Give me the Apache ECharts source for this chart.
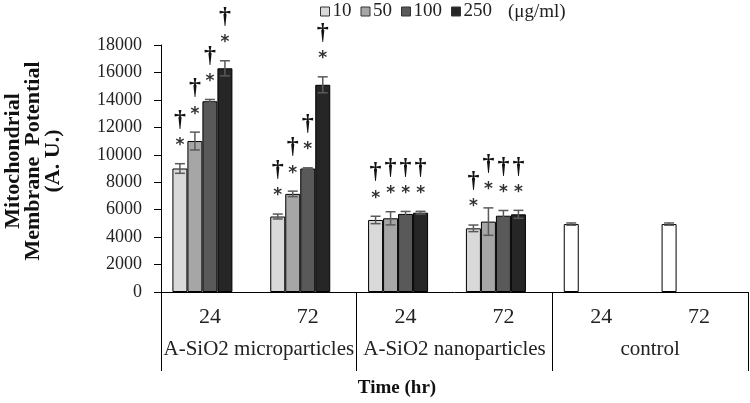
<!DOCTYPE html>
<html>
<head>
<meta charset="utf-8">
<script src="https://cdn.jsdelivr.net/npm/echarts@6/dist/echarts.min.js"></script>
<style>html,body{margin:0;padding:0;background:#fff;}#c{width:750px;height:403px;}</style>
</head>
<body>
<div id="c"></div>
<script>
const timeLabels = ['24', '72', '24', '72', '24', '72'];
const groupLabels = ['A-SiO2 microparticles', 'A-SiO2 nanoparticles', 'control'];
const seriesNames = ['10', '50', '100', '250'];
const yTicks = [0, 2000, 4000, 6000, 8000, 10000, 12000, 14000, 16000, 18000];

const v10 = [9000, 5500, 5250, 4640, 4950, 4950];
const v50 = [11000, 7150, 5370, 5130, null, null];
const v100 = [13900, 9000, 5690, 5560, null, null];
const v250 = [16300, 15100, 5780, 5660, null, null];

const e10 = [350, 180, 270, 240, 80, 80];
const e50 = [650, 200, 480, 1000, null, null];
const e100 = [130, 50, 180, 380, null, null];
const e250 = [550, 580, 100, 290, null, null];

// significance marks (asterisk and dagger shown above the bar)
const sig10 = [1, 1, 1, 1, 0, 0];
const sig50 = [1, 1, 1, 1, 0, 0];
const sig100 = [1, 1, 1, 1, 0, 0];
const sig250 = [1, 1, 1, 1, 0, 0];

const values = [v10, v50, v100, v250];
const errors = [e10, e50, e100, e250];
const sigs = [sig10, sig50, sig100, sig250];
const colors = ['#d9d9d9', '#a6a6a6', '#595959', '#262626'];
const FONT = 'Liberation Serif';
const BAR_W = 15;

const barSeries = values.map((arr, si) => ({
  name: seriesNames[si],
  type: 'bar',
  barWidth: BAR_W,
  barGap: '0%',
  itemStyle: { color: colors[si], borderColor: '#000', borderWidth: 1 },
  data: arr.map((v, i) => {
    if (v == null) return null;
    const isControl = Math.floor(i / 2) === 2;
    return isControl ? { value: v, itemStyle: { color: '#fff' } } : v;
  })
}));
// empty fifth slot (as in the original layout)
barSeries.push({ name: 'pad', type: 'bar', barWidth: BAR_W, barGap: '0%', data: timeLabels.map(() => null) });

const errData = [];
values.forEach((arr, si) => {
  arr.forEach((v, i) => {
    if (v == null) return;
    errData.push([i, si, v, errors[si][i], sigs[si][i]]);
  });
});

const chart = echarts.init(document.getElementById('c'));
chart.setOption({
  animation: false,
  textStyle: { fontFamily: FONT },
  grid: { left: 161, right: 2, top: 45, bottom: 111, containLabel: false },
  legend: {
    data: seriesNames,
    left: 320, top: 2, padding: 0,
    icon: 'rect', itemWidth: 9, itemHeight: 9, itemGap: 9,
    itemStyle: { borderColor: '#333', borderWidth: 1 },
    textStyle: { fontFamily: FONT, fontSize: 19, color: '#222', padding: [0, 0, 0, -2] }
  },
  xAxis: [
    {
      type: 'category', data: timeLabels, position: 'bottom',
      axisLine: { show: true, lineStyle: { color: '#000', width: 1 } },
      axisTick: { show: false },
      axisLabel: { margin: 14, fontFamily: FONT, fontSize: 22, color: '#222', interval: 0 }
    },
    {
      type: 'category', data: groupLabels, position: 'bottom',
      axisLine: { show: false },
      axisTick: { show: true, length: 79, lineStyle: { color: '#000', width: 1 }, interval: 0 },
      axisLabel: { margin: 47, fontFamily: FONT, fontSize: 21, color: '#222', interval: 0 }
    }
  ],
  yAxis: {
    type: 'value', min: 0, max: 18000, interval: 2000,
    axisLine: { show: true, lineStyle: { color: '#000', width: 1 } },
    axisTick: { show: true, length: 7, lineStyle: { color: '#000' } },
    splitLine: { show: false },
    axisLabel: {
      margin: 19, fontFamily: FONT, fontSize: 18, color: '#222',
      formatter: v => (yTicks.indexOf(v) >= 0 ? String(v) : '')
    }
  },
  series: barSeries.concat([{
    type: 'custom',
    clip: false,
    z: 5,
    data: errData,
    renderItem: function (params, api) {
      const cat = api.value(0), si = api.value(1), v = api.value(2), e = api.value(3), sig = api.value(4);
      const base = api.coord([cat, v]);
      const x = base[0] + (si - 2) * BAR_W;
      const yTop = api.coord([cat, v + e])[1];
      const yBot = api.coord([cat, v - e])[1];
      const st = { stroke: '#5a5a5a', lineWidth: 1.5 };
      const children = [
        { type: 'line', shape: { x1: x, y1: yTop, x2: x, y2: yBot }, style: st },
        { type: 'line', shape: { x1: x - 5, y1: yTop, x2: x + 5, y2: yTop }, style: st },
        { type: 'line', shape: { x1: x - 5, y1: yBot, x2: x + 5, y2: yBot }, style: st }
      ];
      if (sig) {
        children.push({ type: 'text', style: { text: '*', x: x, y: yTop - 18, align: 'center', verticalAlign: 'middle', font: 'bold 17px "DejaVu Sans"', fill: '#333' } });
        children.push({ type: 'text', style: { text: '†', x: x, y: yTop - 44, align: 'center', verticalAlign: 'middle', font: 'bold 24px "Liberation Serif"', fill: '#111' } });
      }
      return { type: 'group', children: children };
    }
  }]),
  graphic: [
    { type: 'text', x: 508, y: 12, style: { text: '(μg/ml)', font: '19px "Liberation Serif"', fill: '#222', verticalAlign: 'middle' } },
    {
      type: 'text', x: 33, y: 161, rotation: Math.PI / 2,
      style: { text: 'Mitochondrial\nMembrane  Potential\n(A. U.)', font: 'bold 22px "Liberation Serif"', fill: '#111', align: 'center', verticalAlign: 'middle', lineHeight: 20 }
    },
    { type: 'text', x: 397, y: 388, style: { text: 'Time (hr)', font: 'bold 19px "Liberation Serif"', fill: '#111', align: 'center', verticalAlign: 'middle' } }
  ]
});
</script>
</body>
</html>
